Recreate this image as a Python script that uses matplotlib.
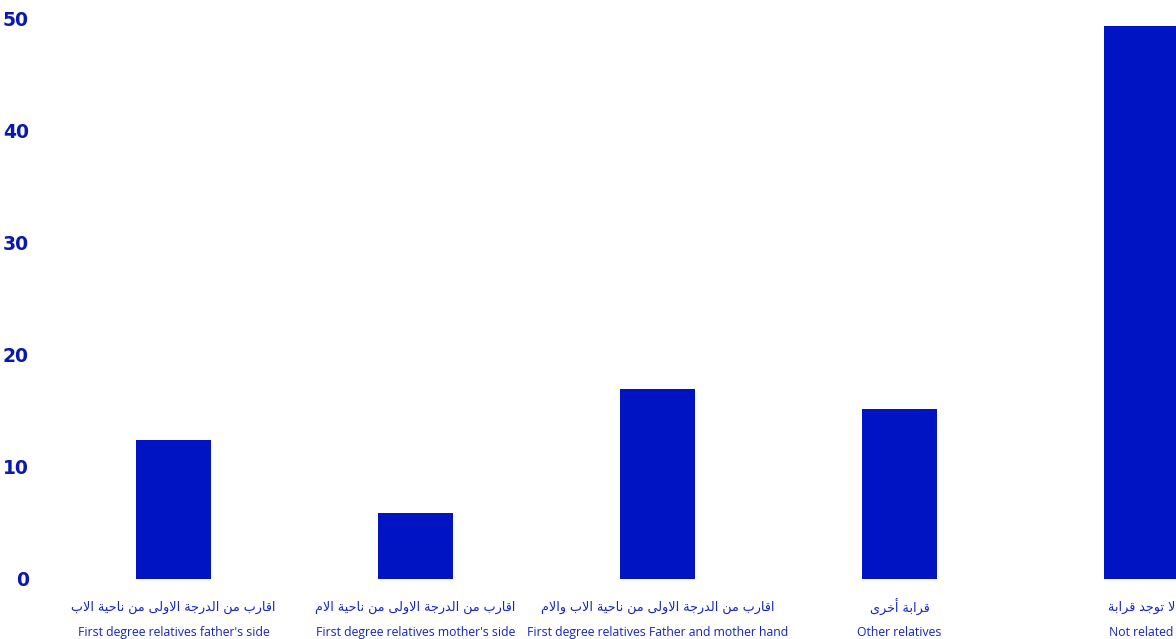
import matplotlib
matplotlib.use("Agg")
import matplotlib.pyplot as plt
import numpy as np

# data
arabic = ["اقارب من الدرجة الاولى من ناحية الاب",
          "اقارب من الدرجة الاولى من ناحية الام",
          "اقارب من الدرجة الاولى من ناحية الاب والام",
          "قرابة أخرى",
          "لا توجد قرابة"]
english = ["First degree relatives father's side",
           "First degree relatives mother's side",
           "First degree relatives Father and mother hand",
           "Other relatives",
           "Not related"]
values = [12.4, 5.9, 17.0, 15.2, 49.4]
yticks = [0, 10, 20, 30, 40, 50]

# matplotlib does no arabic shaping, so pick presentation forms by hand
# (isolated, final, initial, medial); two entries = right-joining only
forms = {
    "ا": (0xFE8D, 0xFE8E), "أ": (0xFE83, 0xFE84),
    "ب": (0xFE8F, 0xFE90, 0xFE91, 0xFE92), "ة": (0xFE93, 0xFE94),
    "ت": (0xFE95, 0xFE96, 0xFE97, 0xFE98), "ج": (0xFE9D, 0xFE9E, 0xFE9F, 0xFEA0),
    "ح": (0xFEA1, 0xFEA2, 0xFEA3, 0xFEA4), "خ": (0xFEA5, 0xFEA6, 0xFEA7, 0xFEA8),
    "د": (0xFEA9, 0xFEAA), "ر": (0xFEAD, 0xFEAE),
    "ق": (0xFED5, 0xFED6, 0xFED7, 0xFED8), "ل": (0xFEDD, 0xFEDE, 0xFEDF, 0xFEE0),
    "م": (0xFEE1, 0xFEE2, 0xFEE3, 0xFEE4), "ن": (0xFEE5, 0xFEE6, 0xFEE7, 0xFEE8),
    "ه": (0xFEE9, 0xFEEA, 0xFEEB, 0xFEEC), "و": (0xFEED, 0xFEEE),
    "ى": (0xFEEF, 0xFEF0), "ي": (0xFEF1, 0xFEF2, 0xFEF3, 0xFEF4),
}
lamalef = {"ا": (0xFEFB, 0xFEFC), "أ": (0xFEF7, 0xFEF8)}

def shape(s):
    # lam + alef ligature first
    chars = []
    i = 0
    while i < len(s):
        if s[i] == "ل" and i + 1 < len(s) and s[i + 1] in lamalef:
            chars.append(("LA", s[i + 1]))
            i += 2
        else:
            chars.append((s[i], None))
            i += 1

    def dual(c):
        return c[0] in forms and len(forms[c[0]]) == 4

    def joins(c):
        return c[0] == "LA" or c[0] in forms

    out = []
    for k, c in enumerate(chars):
        prev = chars[k - 1] if k > 0 else None
        nxt = chars[k + 1] if k + 1 < len(chars) else None
        jp = prev is not None and dual(prev)
        jn = nxt is not None and joins(nxt)
        if c[0] == "LA":
            out.append(chr(lamalef[c[1]][1 if jp else 0]))
        elif c[0] in forms:
            f = forms[c[0]]
            if len(f) == 2:
                out.append(chr(f[1] if jp else f[0]))
            else:
                if jp and jn:
                    out.append(chr(f[3]))
                elif jp:
                    out.append(chr(f[1]))
                elif jn:
                    out.append(chr(f[2]))
                else:
                    out.append(chr(f[0]))
        else:
            out.append(c[0])
    return "".join(out)[::-1]

fig = plt.figure(figsize=(11.76, 6.39), dpi=100)
# bar centres at 173.5 + 242*i px, zero line at 579 px, 50 at 19 px
left_px = 173.5 - 0.5 * 242
ax = fig.add_axes([left_px / 1176, 60 / 639, (1176 - left_px) / 1176, 560 / 639])
x = np.arange(len(values))
ax.bar(x, values, width=0.314, color="#0014C4")
ax.set_xlim(-0.5, (1176 - 173.5) / 242)
ax.set_ylim(0, 50)

ax.set_yticks(yticks)
ax.set_yticklabels([str(t) for t in yticks], fontsize=13.5, fontweight="bold",
                   color="#0A17B0", family="DejaVu Sans")
ax.set_xticks(x)
ax.set_xticklabels([""] * len(x))
ax.tick_params(axis="y", length=0, pad=17)
ax.tick_params(axis="x", length=0)

# two-line category labels: arabic above, english below
tr = ax.get_xaxis_transform()
for xi, a, e in zip(x, arabic, english):
    ax.text(xi, -0.05, shape(a), transform=tr, ha="center", va="center",
            fontsize=9.2, color="#1425BE", family=["DejaVu Sans"])
    ax.text(xi, -0.096, e, transform=tr, ha="center", va="center",
            fontsize=8.8, color="#1425BE", family=["Open Sans", "DejaVu Sans"])

for s in ax.spines.values():
    s.set_visible(False)

fig.savefig("out.png", dpi=100)
